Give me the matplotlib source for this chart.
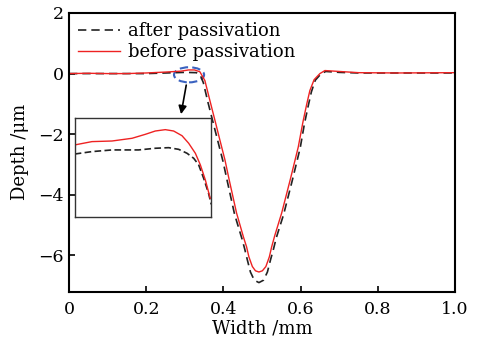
import matplotlib
matplotlib.use("Agg")
import matplotlib.pyplot as plt
from matplotlib.patches import Ellipse

# ---- data ----
x_before = [0.0, 0.05, 0.1, 0.15, 0.2, 0.25, 0.29, 0.31, 0.325, 0.339, 0.352, 0.365, 0.378,
            0.391, 0.404, 0.415, 0.434, 0.452, 0.46, 0.466, 0.475, 0.483, 0.492, 0.501, 0.51,
            0.519, 0.525, 0.533, 0.551, 0.573, 0.594, 0.606, 0.616, 0.624, 0.635, 0.65, 0.663,
            0.70, 0.75, 0.85, 1.0]
y_before = [0.0, 0.01, 0.0, 0.0, 0.02, 0.05, 0.08, 0.12, 0.12, 0.06, -0.23, -0.89, -1.54,
            -2.2, -2.85, -3.51, -4.6, -5.4, -5.72, -6.05, -6.37, -6.51, -6.55, -6.51, -6.37,
            -6.05, -5.72, -5.35, -4.6, -3.51, -2.42, -1.6, -1.0, -0.56, -0.2, 0.0, 0.1,
            0.07, 0.03, 0.02, 0.03]

x_after = [0.0, 0.1, 0.2, 0.25, 0.3, 0.33, 0.34, 0.348, 0.36, 0.373, 0.386, 0.399, 0.41,
           0.429, 0.448, 0.455, 0.462, 0.47, 0.48, 0.492, 0.504, 0.514, 0.522, 0.53, 0.537,
           0.556, 0.578, 0.599, 0.61, 0.62, 0.628, 0.638, 0.652, 0.665, 0.70, 0.75, 0.85, 1.0]
y_after = [0.0, 0.0, 0.0, 0.02, 0.04, 0.03, -0.05, -0.3, -0.95, -1.6, -2.25, -2.9, -3.55,
           -4.65, -5.45, -5.78, -6.15, -6.55, -6.82, -6.9, -6.82, -6.55, -6.15, -5.78, -5.42,
           -4.65, -3.55, -2.45, -1.65, -1.05, -0.6, -0.22, -0.02, 0.07, 0.04, 0.02, 0.02, 0.02]

# inset detail (zoom of the marked region)
xi_before = [0.27, 0.2814, 0.2946, 0.3078, 0.3165, 0.3231, 0.3297, 0.3352, 0.3407,
             0.3451, 0.3495, 0.3528, 0.3561, 0.3593]
yi_before = [0.024, 0.046, 0.05, 0.068, 0.094, 0.116, 0.125, 0.116, 0.085,
             0.035, -0.031, -0.108, -0.208, -0.329]
xi_after = [0.27, 0.2814, 0.2946, 0.3121, 0.3231, 0.3319, 0.3385, 0.344, 0.3484,
            0.3517, 0.355, 0.3582, 0.36]
yi_after = [-0.036, -0.020, -0.009, -0.009, 0.002, 0.006, -0.005, -0.031, -0.064,
            -0.108, -0.197, -0.296, -0.369]

xticks = [0, 0.2, 0.4, 0.6, 0.8, 1.0]
xticklabels = ["0", "0.2", "0.4", "0.6", "0.8", "1.0"]
yticks = [2, 0, -2, -4, -6]
yticklabels = ["2", "0", "\u22122", "\u22124", "\u22126"]

plt.rcParams['font.family'] = ['DejaVu Serif']
plt.rcParams['mathtext.fontset'] = 'dejavuserif'

fig = plt.figure(figsize=(4.8, 3.41), dpi=100)
ax = fig.add_axes([0.14375, 0.1446, 0.8042, 0.8173])

ax.plot(x_after, y_after, color='#222222', lw=1.2, ls=(0, (5, 3)), label='after passivation')
ax.plot(x_before, y_before, color='#ee2222', lw=1.0, label='before passivation')

ax.set_xlim(0, 1.0)
ax.set_ylim(-7.2, 2)
ax.set_xticks(xticks)
ax.set_xticklabels(xticklabels)
ax.set_yticks(yticks)
ax.set_yticklabels(yticklabels)
ax.tick_params(direction='in', length=4, width=1.2, labelsize=12.5)
ax.tick_params(axis='x', pad=7)
ax.tick_params(axis='y', pad=4)
for s in ax.spines.values():
    s.set_linewidth(1.5)
ax.set_xlabel('Width /mm', fontsize=13, labelpad=1)
ax.set_ylabel('Depth /\u03bcm', fontsize=13, labelpad=6)

leg = ax.legend(loc='upper left', frameon=False, fontsize=13, handlelength=2.3,
                handletextpad=0.45, borderaxespad=0.0, labelspacing=0.15,
                borderpad=0.2, bbox_to_anchor=(0.015, 0.98))

# ellipse and arrow marking the zoomed region
ell = Ellipse((0.311, -0.04), 0.078, 0.5, fill=False, edgecolor='#3a62c0',
              lw=1.5, ls=(0, (4, 2)))
ax.add_patch(ell)
ax.annotate('', xy=(0.289, -1.43), xytext=(0.305, -0.29),
            arrowprops=dict(arrowstyle='-|>', color='black', lw=1.2, mutation_scale=12))

# inset
axi = fig.add_axes([0.1556, 0.3645, 0.2846, 0.2886])
axi.plot(xi_after, yi_after, color='#222222', lw=1.2, ls=(0, (4, 2)))
axi.plot(xi_before, yi_before, color='#ee2222', lw=1.0)
axi.set_xlim(0.27, 0.36)
axi.set_ylim(-0.45, 0.2)
axi.set_xticks([])
axi.set_yticks([])
for s in axi.spines.values():
    s.set_linewidth(1.0)
    s.set_color('#333333')

fig.savefig('out.png', dpi=100)
